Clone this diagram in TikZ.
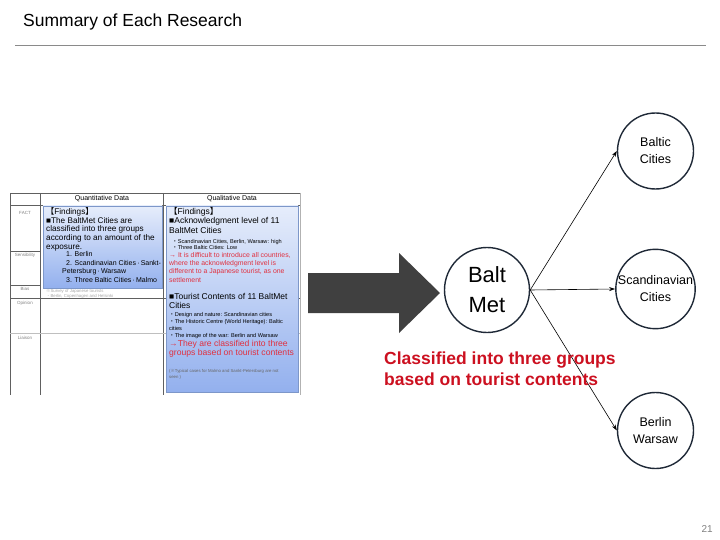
\documentclass[tikz,border=0pt]{standalone}
\usepackage{fontspec}
\setmainfont{Liberation Sans}
\newfontfamily\cjk{Noto Sans CJK JP}
\usetikzlibrary{arrows.meta,positioning}

\definecolor{navy}{HTML}{1F2937}
\definecolor{arrowgray}{HTML}{404040}
\definecolor{alertred}{HTML}{CC1020}
\definecolor{shotred}{HTML}{E0303F}
\definecolor{boxtop}{HTML}{E6EDFB}
\definecolor{boxbottom}{HTML}{93B0EE}
\definecolor{boxline}{HTML}{7D97C9}
\definecolor{gridline}{HTML}{606060}
\definecolor{rulegray}{HTML}{8A8A8A}

\newcommand\fsz[2]{\fontsize{#1}{#2}\selectfont}
\newcommand\dotsep{\,·\,}

\tikzset{
  city/.style={circle, draw=navy, line width=1.4pt, minimum size=76pt, inner sep=0pt,
    align=center, font=\fsz{12.5}{17}},
  hub/.style={circle, draw=navy, line width=1.4pt, minimum size=85pt, inner sep=0pt,
    align=center, font=\fsz{22}{30}},
  link/.style={-{Stealth[length=6pt,width=4pt]}, line width=0.6pt, black},
  shot/.style={anchor=north west, inner sep=0pt, align=left},
  grid/.style={gridline, line width=0.5pt},
  rowlabel/.style={inner sep=0pt, font=\fsz{4.5}{6}, text=gray},
}

\begin{document}
\begin{tikzpicture}[x=1pt, y=-1pt]
  \useasboundingbox (0,0) rectangle (720,540);

  % title and rule
  \node (title) [anchor=base west, inner sep=0pt, font=\fsz{17.5}{20}] at (23,27) {Summary of Each Research};
  \draw[rulegray, line width=0.8pt] (15,45) -- (706,45);

  % screenshot of the research table
  \draw[grid] (10,193) -- (300,193);
  \draw[grid] (10,205) -- (300,205);
  \draw[grid] (10,193) -- (10,395);
  \draw[grid] (40,193) -- (40,395);
  \draw[grid] (163,193) -- (163,395);
  \draw[grid, gray!60] (300,193) -- (300,395);
  \draw[grid] (10,251) -- (40,251);
  \draw[grid] (10,285) -- (40,285);
  \draw[grid] (10,298) -- (300,298);
  \draw[grid, gray!50] (10,333) -- (300,333);
  \node (quant) [inner sep=0pt, font=\fsz{7}{8}] at (102,199) {Quantitative Data};
  \node (qual) [inner sep=0pt, font=\fsz{7}{8}] at (232,199) {Qualitative Data};
  \node (fact) [rowlabel] at (25,213) {FACT};
  \node (sense) [rowlabel] at (25,255) {Sensibility};
  \node (bias) [rowlabel] at (25,289) {Bias};
  \node (opinion) [rowlabel] at (25,303) {Opinion};
  \node (liaison) [rowlabel] at (25,338) {Liaison};

  \shade[top color=boxtop, bottom color=boxbottom, draw=boxline, line width=0.6pt] (43,206) rectangle (162,288);
  \shade[top color=boxtop, bottom color=boxbottom, draw=boxline, line width=0.6pt] (166,206) rectangle (298,392);

  \node (quanttext) [shot, font=\fsz{8.2}{8.9}] at (46,207) {%
    {\cjk【}Findings{\cjk】}\\
    ■The BaltMet Cities are\\
    classified into three groups\\
    according to an amount of the\\
    exposure.};
  \node (ranking) [shot, font=\fsz{7}{8.9}] at (66,251) {%
    1. Berlin\\
    2. Scandinavian Cities\dotsep Sankt-\\[-0.2pt]
    \hspace{-4pt}Petersburg\dotsep Warsaw\\
    3. Three Baltic Cities\dotsep Malmo};
  \node (quantnote) [shot, font=\fsz{4.3}{5.5}, text=gray!70] at (46,289) {%
    {\cjk ※}Survey of Japanese tourists\\
    {\cjk ・}Berlin, Copenhagen and Helsinki};

  \node (findings) [shot, font=\fsz{8.5}{9.5}] at (169,207) {%
    {\cjk【}Findings{\cjk】}\\
    ■Acknowledgment level of 11\\
    BaltMet Cities};
  \node (level) [shot, font=\fsz{5.6}{6.4}] at (172,239) {%
    {\cjk ・}Scandinavian Cities, Berlin, Warsaw: high\\
    {\cjk ・}Three Baltic Cities: Low};
  \node (difficult) [shot, font=\fsz{6.9}{8.4}, text=shotred] at (169,252) {%
    → It is difficult to introduce all countries,\\
    where the acknowledgment level is\\
    different to a Japanese tourist, as one\\
    settlement};
  \node (contents) [shot, font=\fsz{8.5}{9}] at (169,293) {%
    ■Tourist Contents of 11 BaltMet\\
    Cities};
  \node (kinds) [shot, font=\fsz{5.6}{7}] at (169,312) {%
    {\cjk ・}Design and nature: Scandinavian cities\\
    {\cjk ・}The Historic Centre (World Heritage): Baltic\\
    cities\\
    {\cjk ・}The image of the war: Berlin and Warsaw};
  \node (grouped) [shot, font=\fsz{8.6}{9}, text=shotred] at (169,340) {%
    →They are classified into three\\
    groups based on tourist contents};
  \node (qualnote) [shot, font=\fsz{4.3}{6}, text=gray!80!black] at (169,369) {%
    ({\cjk ※}Typical cases for Malmo and Sankt-Petersburg are not\\
    seen )};

  % big arrow
  \fill[arrowgray] (308,273) -- (399,273) -- (399,253) -- (440,293)
    -- (399,333) -- (399,313) -- (308,313) -- cycle;

  % grouping
  \node (baltmet) [hub] at (487,290) {Balt\\Met};
  \node (baltic) [city] at (655.5,151) {Baltic\\Cities};
  \node (scandi) [city] at (655.5,289) {Scandinavian\\Cities};
  \node (berlin) [city] at (655.5,430.5) {Berlin\\Warsaw};
  \draw[link] (baltmet.east) -- (baltic.west);
  \draw[link] (baltmet.east) -- (scandi.west);
  \draw[link] (baltmet.east) -- (berlin.west);

  \node (classified) [shot, font=\bfseries\fsz{17.5}{21}, text=alertred] at (384,352) {%
    Classified into three groups\\
    based on tourist contents};

  \node (page) [anchor=base east, inner sep=0pt, font=\fsz{10}{12}, text=gray] at (713,532) {21};
\end{tikzpicture}
\end{document}
